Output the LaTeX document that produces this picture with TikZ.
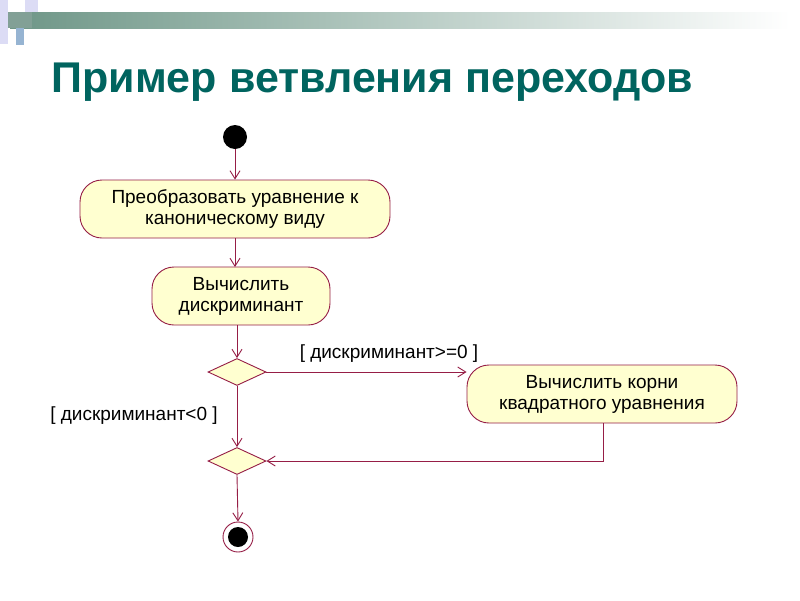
\documentclass[tikz,border=0pt]{standalone}
\usepackage{fontspec}
\setmainfont{Liberation Sans}
\usetikzlibrary{shapes.geometric,arrows.meta}
\definecolor{ln}{RGB}{150,30,70}
\definecolor{fl}{RGB}{255,255,208}
\definecolor{tl}{RGB}{0,100,95}
\definecolor{lav}{RGB}{220,220,245}
\definecolor{gg}{RGB}{130,160,150}
\definecolor{gb}{RGB}{110,150,135}
\definecolor{bl}{RGB}{150,180,210}
\begin{document}
\begin{tikzpicture}[x=1pt,y=-1pt,
  act/.style={draw=ln,line width=0.9pt,fill=fl,rounded corners=22pt,minimum height=58pt,align=center,font=\fontsize{19}{21}\selectfont,inner sep=0pt},
  dec/.style={draw=ln,line width=0.9pt,fill=fl,diamond,aspect=2.2,minimum width=58pt,minimum height=27pt,inner sep=0pt},
  ar/.style={draw=ln,line width=0.9pt,-{Straight Barb[length=8pt,width=10pt]}},
  lbl/.style={font=\fontsize{19}{21}\selectfont}]
\useasboundingbox[fill=white] (0,0) rectangle (800,600);
% decoration
\shade[left color=gb, right color=white] (10,12) rectangle (790,28);
\fill[lav] (0,0) rectangle (8,44);
\fill[lav] (25,0) rectangle (38,12);
\fill[gg] (8,12) rectangle (32,28);
\fill[bl] (16,28) rectangle (24,45);
\node[anchor=base west,text=tl,font=\fontsize{43}{46}\selectfont\bfseries] (title) at (48,92) {Пример ветвления переходов};
% nodes
\node[circle,fill=black,minimum size=24pt,inner sep=0pt] (s) at (235,137) {};
\node[act,minimum width=310pt] (a1) at (235,209) {Преобразовать уравнение к\\каноническому виду};
\node[act,minimum width=178pt] (a2) at (241,296) {Вычислить\\дискриминант};
\node[dec] (d1) at (237,372) {};
\node[act,minimum width=270pt] (a3) at (602,394) {Вычислить корни\\квадратного уравнения};
\node[dec] (d2) at (237,461) {};
\node[circle,draw=ln,line width=0.9pt,fill=white,minimum size=30pt,inner sep=0pt] (e) at (238,537) {};
\node[circle,fill=black,minimum size=20pt,inner sep=0pt] at (e) {};
\coordinate (c1) at (603,461);
\coordinate (t2) at (235,267);
% connectors
\draw[ar] (s) -- (s|-a1.north);
\draw[ar] (a1.south-|s) -- (t2);
\draw[ar] (a2.south-|d1) -- (d1.north);
\draw[ar] (d1.east) -- (a3.west|-d1.east);
\draw[ar] (d1.south) -- (d2.north);
\draw[ar] (a3.south-|c1) -- (c1) -- (d2.east);
\draw[ar] (d2.south) -- (e.north);
\node[lbl] (l1) at (389,354) {[ дискриминант>=0 ]};
\node[lbl] (l2) at (134,416) {[ дискриминант<0 ]};
\end{tikzpicture}
\end{document}
